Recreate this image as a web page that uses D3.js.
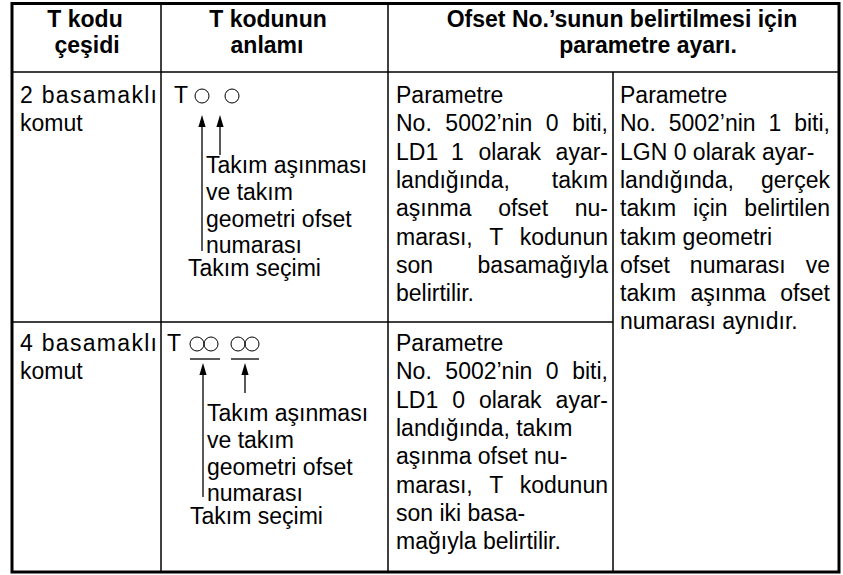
<!DOCTYPE html>
<html><head><meta charset="utf-8">
<script src="https://cdn.jsdelivr.net/npm/d3@7"></script>
<style>html,body{margin:0;padding:0;background:#fff;} svg{display:block;}</style>
</head><body>
<svg id="chart" width="843" height="575"></svg>
<script>
// ---------- data (text content of the table) ----------
const headerCol1 = ["T kodu", "çeşidi"];
const headerCol2 = ["T kodunun", "anlamı"];
const headerCol34 = ["Ofset No.’sunun belirtilmesi için", "parametre ayarı."];
const codeTypeLines = [["2 basamaklı", "komut"], ["4 basamaklı", "komut"]];
const codeTypeJustify = [[1, 0], [1, 0]];
const codeLetter = "T";
const digitGroups = [[1, 1], [2, 2]];          // circles per digit group, per row
const offsetLabelLines = ["Takım aşınması", "ve takım", "geometri ofset", "numarası"];
const selectLabel = "Takım seçimi";
const param2Lines = ["Parametre", "No. 5002’nin 0 biti,", "LD1 1 olarak ayar-", "landığında, takım",
  "aşınma ofset nu-", "marası, T kodunun", "son basamağıyla", "belirtilir."];
const param2Justify = [0, 1, 1, 1, 1, 1, 1, 0];
const param4Lines = ["Parametre", "No. 5002’nin 0 biti,", "LD1 0 olarak ayar-", "landığında, takım",
  "aşınma ofset nu-", "marası, T kodunun", "son iki basa-", "mağıyla belirtilir."];
const param4Justify = [0, 1, 1, 0, 0, 1, 0, 0];
const paramCommonLines = ["Parametre", "No. 5002’nin 1 biti,", "LGN 0 olarak ayar-", "landığında, gerçek",
  "takım için belirtilen", "takım geometri", "ofset numarası ve", "takım aşınma ofset", "numarası aynıdır."];
const paramCommonJustify = [0, 1, 0, 1, 1, 0, 1, 1, 0];

// ---------- layout ----------
const W = 843, H = 575;
const FONT = "'Liberation Sans', Arial, Helvetica, sans-serif";
const colEdges = [12, 161, 388, 613, 839];
const tableTop = 3.5, tableBottom = 572, headerBottom = 72, rowDivider = 322;
const rowBase = [103, 351];
const lineStep = 28.3;
const bodySize = 23, headSize = 23;

const svg = d3.select("#chart");
svg.append("rect").attr("width", W).attr("height", H).attr("fill", "#fff");

const x = d3.scaleLinear().domain([0, W]).range([0, W]);
const lineY = d3.scaleLinear().domain([0, 1]).range([0, lineStep]);
const headY = d3.scaleLinear().domain([0, 1]).range([27, 53]);

const gText = svg.append("g").attr("font-family", FONT).attr("font-size", bodySize).attr("fill", "#000");

function drawLine(g, str, x0, y, width, justify, spread) {
  if (spread) {
    g.append("text").attr("x", x0).attr("y", y).attr("textLength", width)
      .attr("lengthAdjust", "spacing").text(str);
    return;
  }
  if (!justify || str.indexOf(" ") < 0) {
    g.append("text").attr("x", x0).attr("y", y).text(str);
    return;
  }
  const words = str.split(" ");
  const t = g.append("text").attr("y", y);
  const spans = words.map(w => t.append("tspan").text(w));
  const widths = spans.map(s => s.node().getComputedTextLength());
  const gap = (width - d3.sum(widths)) / (words.length - 1);
  let cx = x0;
  spans.forEach((s, i) => { s.attr("x", cx); cx += widths[i] + gap; });
}

function drawBlock(lines, just, x0, width, base, spread) {
  lines.forEach((s, i) => drawLine(gText, s, x0, base + lineY(i), width, just[i], spread && just[i]));
}

// ---------- header ----------
const gHead = svg.append("g").attr("font-family", FONT).attr("font-size", headSize)
  .attr("font-weight", "bold").attr("text-anchor", "middle");
const headCenters = [[85, 87], [268, 267], [622, 648]];
[headerCol1, headerCol2, headerCol34].forEach((lines, c) => {
  lines.forEach((s, i) => gHead.append("text").attr("x", x(headCenters[c][i])).attr("y", headY(i)).text(s));
});

// ---------- column 1 ----------
codeTypeLines.forEach((lines, r) => drawBlock(lines, codeTypeJustify[r], x(20), 137, rowBase[r], true));

// ---------- column 3 / 4 ----------
drawBlock(param2Lines, param2Justify, x(396), 212, rowBase[0]);
drawBlock(param4Lines, param4Justify, x(396), 212, rowBase[1]);
drawBlock(paramCommonLines, paramCommonJustify, x(620), 210, rowBase[0]);

// ---------- column 2 diagrams ----------
const gDia = svg.append("g");
const circleR = 7;
const letterX = [174, 167];
const circleX = [[202, 232], [197, 211, 238, 252]];
const underlines = [[], [[190, 220], [231, 259]]];
const arrowX = [[202, 220], [203, 245]];
const shortEnd = [52, 42];
const longEnd = [148, 146];
const labelX = [206, 207];
const selectX = [188, 190];
const labelOffsets = [70, 97, 124, 150];
const selectOffset = 173;

function arrow(xp, y1, y2) {
  gDia.append("line").attr("x1", xp).attr("x2", xp).attr("y1", y1 + 8).attr("y2", y2)
    .attr("stroke", "#000").attr("stroke-width", 1.3);
  gDia.append("path").attr("d", `M${xp},${y1} L${xp - 3.6},${y1 + 12} L${xp + 3.6},${y1 + 12} Z`).attr("fill", "#000");
}

digitGroups.forEach((groups, r) => {
  const B = rowBase[r];
  gText.append("text").attr("x", x(letterX[r])).attr("y", B).text(codeLetter);
  const nCirc = d3.sum(groups);
  d3.range(nCirc).forEach(k => {
    gDia.append("circle").attr("cx", x(circleX[r][k])).attr("cy", B - 7).attr("r", circleR)
      .attr("fill", "none").attr("stroke", "#000").attr("stroke-width", 1);
  });
  underlines[r].forEach(([a, b]) => gDia.append("line").attr("x1", x(a)).attr("x2", x(b))
    .attr("y1", B + 8).attr("y2", B + 8).attr("stroke", "#000").attr("stroke-width", 1.3));
  arrow(x(arrowX[r][0]), B + 12, B + longEnd[r]);
  arrow(x(arrowX[r][1]), B + 12, B + shortEnd[r]);
  offsetLabelLines.forEach((s, i) => gText.append("text").attr("x", x(labelX[r])).attr("y", B + labelOffsets[i]).text(s));
  gText.append("text").attr("x", x(selectX[r])).attr("y", B + selectOffset).text(selectLabel);
});

// ---------- grid lines ----------
const gGrid = svg.append("g").attr("stroke", "#000").attr("fill", "none");
const inner = 1.5;
gGrid.append("line").attr("x1", colEdges[0]).attr("x2", colEdges[4]).attr("y1", headerBottom).attr("y2", headerBottom).attr("stroke-width", inner);
gGrid.append("line").attr("x1", colEdges[0]).attr("x2", colEdges[3]).attr("y1", rowDivider).attr("y2", rowDivider).attr("stroke-width", inner);
[colEdges[1], colEdges[2]].forEach(cx => gGrid.append("line").attr("x1", cx).attr("x2", cx)
  .attr("y1", tableTop).attr("y2", tableBottom).attr("stroke-width", inner));
gGrid.append("line").attr("x1", colEdges[3]).attr("x2", colEdges[3]).attr("y1", headerBottom).attr("y2", tableBottom).attr("stroke-width", inner);
gGrid.append("rect").attr("x", colEdges[0]).attr("y", tableTop).attr("width", colEdges[4] - colEdges[0])
  .attr("height", tableBottom - tableTop).attr("stroke-width", 3);
</script>
</body></html>
